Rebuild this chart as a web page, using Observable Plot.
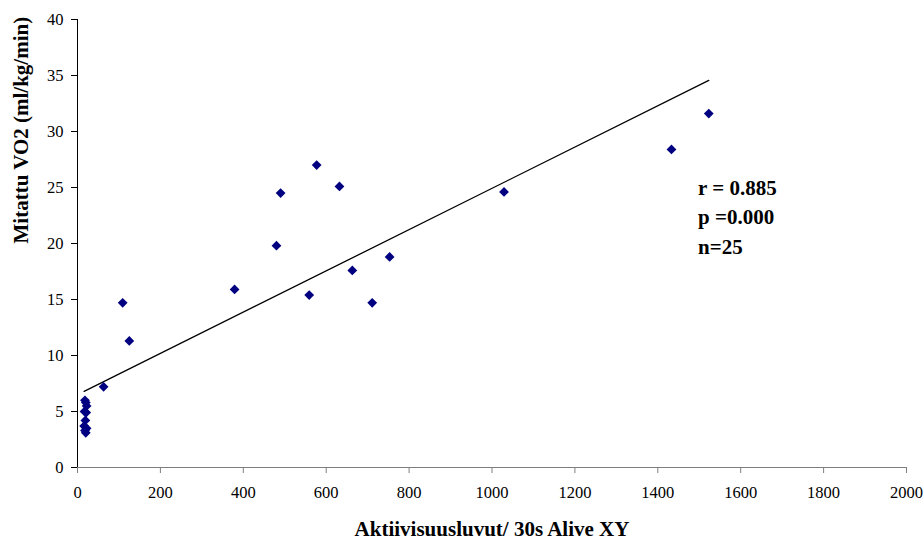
<!DOCTYPE html>
<html>
<head>
<meta charset="utf-8">
<script src="https://cdn.jsdelivr.net/npm/d3@7"></script>
<script src="https://cdn.jsdelivr.net/npm/@observablehq/plot@0.6"></script>
<style>
  html, body { margin: 0; padding: 0; background: #fff; }
  #chart svg text { font-family: "Liberation Serif", "Times New Roman", serif !important; font-variant: normal !important; }
</style>
</head>
<body>
<div id="chart"></div>
<script>
// Activity counts per 30 s (Alive XY) and measured VO2 (ml/kg/min)
const activity = [18, 20, 22, 17, 21, 19, 16, 22, 18, 20,
                  63, 109, 125, 379, 480, 490, 559, 577, 632, 663, 711, 753, 1029, 1433, 1523];
const vo2      = [6.0, 5.8, 5.5, 5.0, 4.9, 4.2, 3.7, 3.5, 3.3, 3.1,
                  7.2, 14.7, 11.3, 15.9, 19.8, 24.5, 15.4, 27.0, 25.1, 17.6, 14.7, 18.8, 24.6, 28.4, 31.6];
const xTicks = [0, 200, 400, 600, 800, 1000, 1200, 1400, 1600, 1800, 2000];
const yTicks = [0, 5, 10, 15, 20, 25, 30, 35, 40];
const xTitle = "Aktiivisuusluvut/ 30s Alive XY";
const yTitle = "Mitattu VO2 (ml/kg/min)";
const statLines = ["r = 0.885", "p =0.000", "n=25"];
const statX = 1497;
const statY = [24.9, 22.3, 19.7];

const data = activity.map((a, i) => ({x: a, y: vo2[i]}));
const stats = statLines.map((t, i) => ({t, x: statX, y: statY[i]}));

const font = "Liberation Serif";

const chart = Plot.plot({
  width: 924,
  height: 541,
  marginTop: 19,
  marginBottom: 74,
  marginLeft: 77,
  marginRight: 18,
  style: {fontFamily: font, fontSize: "16.5px", color: "#000", background: "#fff"},
  x: {domain: [0, 2000]},
  y: {domain: [0, 40]},
  marks: [
    Plot.axisX({ticks: xTicks, tickFormat: d => String(d), tickSize: 6, tickPadding: 13, label: null,
      stroke: "#7f7f7f", fill: "#000", fontSize: 16.5}),
    Plot.axisY({ticks: yTicks, tickFormat: d => String(d), tickSize: 6, tickPadding: 8, label: null,
      stroke: "#000", fill: "#000", fontSize: 16.5}),
    Plot.ruleY([0], {stroke: "#7f7f7f", strokeWidth: 1.2}),
    Plot.ruleX([0], {stroke: "#000", strokeWidth: 1}),
    Plot.linearRegressionY(data, {x: "x", y: "y", ci: 0, stroke: "#000", strokeWidth: 1.3}),
    Plot.dot(data, {x: "x", y: "y", symbol: "diamond2", r: 4.4, fill: "#000080", stroke: "none"}),
    Plot.text(stats, {x: "x", y: "y", text: "t", textAnchor: "start", lineAnchor: "middle",
      fontSize: 21, fontWeight: "bold", fill: "#000"}),
    Plot.text([xTitle], {frameAnchor: "bottom", dy: 62, lineAnchor: "middle",
      fontSize: 21, fontWeight: "bold", fill: "#000"}),
    Plot.text([yTitle], {frameAnchor: "left", dx: -56, rotate: -90, lineAnchor: "middle",
      fontSize: 21, fontWeight: "bold", fill: "#000"})
  ]
});
document.getElementById("chart").appendChild(chart);
</script>
</body>
</html>
